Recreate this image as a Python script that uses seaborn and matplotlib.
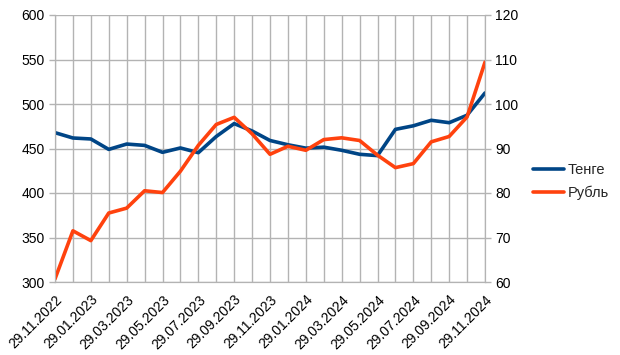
import pandas as pd
import numpy as np
import matplotlib
matplotlib.use('Agg')
import matplotlib.pyplot as plt
import seaborn as sns

dates = ['29.11.2022', '29.12.2022', '29.01.2023', '28.02.2023', '29.03.2023',
         '29.04.2023', '29.05.2023', '29.06.2023', '29.07.2023', '29.08.2023',
         '29.09.2023', '29.10.2023', '29.11.2023', '29.12.2023', '29.01.2024',
         '29.02.2024', '29.03.2024', '29.04.2024', '29.05.2024', '29.06.2024',
         '29.07.2024', '29.08.2024', '29.09.2024', '29.10.2024', '29.11.2024']
tenge = [467.8, 461.8, 460.7, 449.0, 455.0, 453.5, 445.7, 450.6, 445.3, 463.5,
         478.0, 469.7, 459.0, 454.2, 450.4, 451.5, 448.0, 443.5, 442.0, 471.5,
         475.5, 481.7, 479.0, 487.4, 512.4]
rubl = [60.7, 71.5, 69.3, 75.5, 76.6, 80.5, 80.1, 84.9, 90.7, 95.4,
        97.0, 93.3, 88.7, 90.5, 89.6, 92.0, 92.4, 91.8, 88.5, 85.7,
        86.6, 91.5, 92.7, 97.1, 109.4]

df = pd.DataFrame({'date': dates, 'pos': np.arange(len(dates)),
                   'tenge': tenge, 'rubl': rubl})

sns.set_style('white')
plt.rcParams['font.family'] = ['Liberation Sans', 'DejaVu Sans']
blue = '#004586'
orange = '#ff420e'
grid = '#b3b3b3'

fig = plt.figure(figsize=(6.2, 3.55), dpi=100)
ax = fig.add_axes([55 / 620, 1 - 282 / 355, 430 / 620, 267 / 355])
ax2 = ax.twinx()

sns.lineplot(data=df, x='pos', y='tenge', ax=ax, color=blue, lw=2.6, label='Тенге', legend=False)
sns.lineplot(data=df, x='pos', y='rubl', ax=ax2, color=orange, lw=2.6, label='Рубль', legend=False)

ax.set_xlim(0, len(dates) - 1)
ax.set_ylim(300, 600)
ax2.set_ylim(60, 120)
ax.set_yticks(np.arange(300, 601, 50))
ax2.set_yticks(np.arange(60, 121, 10))
ax.set_xticks(df['pos'])
ax.set_xticklabels([d if i % 2 == 0 else '' for i, d in enumerate(dates)],
                   rotation=45, ha='right', rotation_mode='anchor')
ax.grid(True, color=grid, lw=1)
ax.set_axisbelow(True)
ax.set_xlabel('')
ax.set_ylabel('')
ax2.set_ylabel('')

for a in (ax, ax2):
    a.tick_params(colors=grid, labelcolor='black', labelsize=10, length=4, width=1)
    for s in a.spines.values():
        s.set_color(grid)
    a.spines['top'].set_visible(False)

h1, l1 = ax.get_legend_handles_labels()
h2, l2 = ax2.get_legend_handles_labels()
fig.legend(h1 + h2, l1 + l2, loc='upper left', bbox_to_anchor=(533 / 620, 1 - 163 / 355),
           frameon=False, fontsize=10.5, handlelength=2.1, handletextpad=0.3,
           borderpad=0, borderaxespad=0, labelspacing=0.6)

plt.savefig('out.png', dpi=100)
